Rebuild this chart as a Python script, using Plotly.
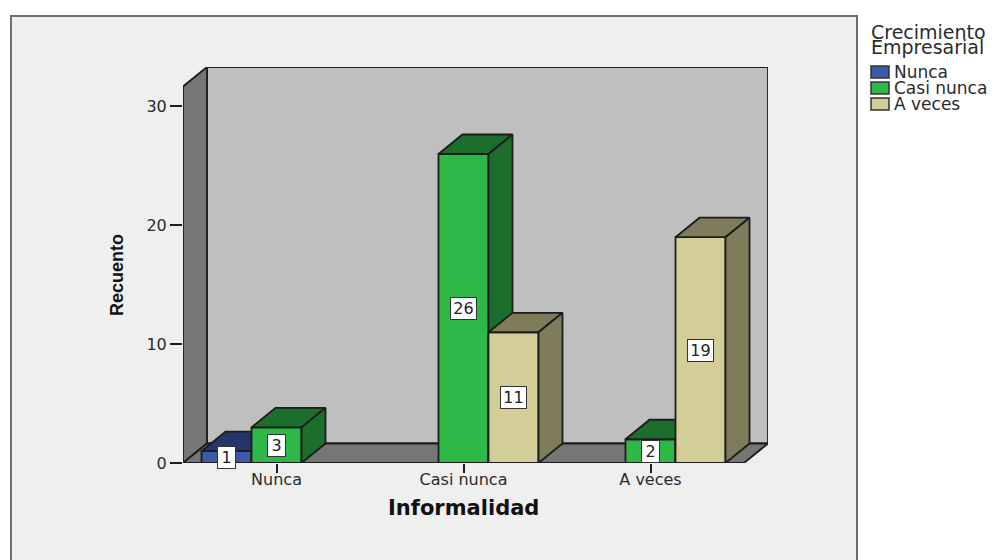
import plotly.graph_objects as go

### Data
categories = ["Nunca", "Casi nunca", "A veces"]
series_names = ["Nunca", "Casi nunca", "A veces"]
nunca_values = [1, None, None]
casi_nunca_values = [3, 26, 2]
a_veces_values = [None, 11, 19]
y_ticks = [0, 10, 20, 30]

legend_title_lines = ["Crecimiento", "Empresarial"]
x_title = "Informalidad"
y_title = "Recuento"

# front / dark face colours per series
front_colors = ["#3E58AC", "#2EB848", "#D3CE97"]
dark_colors = ["#25356A", "#1C6E2C", "#7F7C5B"]
edge = "#1c1c1c"
text_color = "#2b2b2b"

# The page keeps the browser's 8px body margin, so the figure is 8px smaller
PAGE = 8
W, H = 997 - PAGE, 560 - PAGE

# pixel helpers: the margins are zero so paper coords map straight to page pixels
def px(x):
    return (x - PAGE) / W

def py(y):
    return 1 - (y - PAGE) / H

# --- 3D box geometry (data units) ---
dx = 24 / 187
dy = 19.5 / 11.9
bar_w = 50 / 187
x_lo, x_hi = -0.5, 2.5
y_top = 31.68


def poly_trace(xs, ys, fill, xaxis="x", yaxis="y"):
    return go.Scatter(
        x=xs, y=ys, mode="lines", fill="toself", fillcolor=fill,
        line=dict(color=edge, width=1.8), hoverinfo="skip", showlegend=False,
        xaxis=xaxis, yaxis=yaxis,
    )


fig = go.Figure()

# Walls and floor on the base axes
fig.add_trace(poly_trace([x_lo + dx, x_hi + dx, x_hi + dx, x_lo + dx, x_lo + dx],
                         [dy, dy, y_top + dy, y_top + dy, dy], "#BFBFBF"))
fig.add_trace(poly_trace([x_lo, x_lo + dx, x_lo + dx, x_lo, x_lo],
                         [0, dy, y_top + dy, y_top, 0], "#767676"))
fig.add_trace(poly_trace([x_lo, x_hi, x_hi + dx, x_lo + dx, x_lo],
                         [0, 0, dy, dy, 0], "#767676"))

# Each series sits on its own overlaid axes so its front covers the previous sides
all_series = [nunca_values, casi_nunca_values, a_veces_values]
annotations = []
for k, values in enumerate(all_series):
    xa = f"x{k + 2}"
    ya = f"y{k + 2}"
    offset = (k - 1.5) * bar_w

    fig.add_trace(go.Bar(
        x=list(range(len(categories))), y=values, width=bar_w, offset=offset,
        marker_color=front_colors[k], marker_line_color=edge, marker_line_width=1.8,
        name=series_names[k], showlegend=False, xaxis=xa, yaxis=ya,
        hovertemplate="%{y}<extra>" + series_names[k] + "</extra>",
    ))

    top_x, top_y, side_x, side_y = [], [], [], []
    for i, v in enumerate(values):
        if v is None:
            continue
        l = i + offset
        r = l + bar_w
        top_x += [l, r, r + dx, l + dx, l, None]
        top_y += [v, v, v + dy, v + dy, v, None]
        side_x += [r, r + dx, r + dx, r, r, None]
        side_y += [0, dy, v + dy, v, 0, None]
        annotations.append(dict(
            x=l + bar_w / 2, y=v / 2, xref="x", yref="y", text=str(v), showarrow=False,
            width=15 if v < 10 else 23,
            font=dict(family="DejaVu Sans", size=16, color="#222222"),
            bgcolor="white", bordercolor="#333333", borderwidth=1, borderpad=1,
        ))
    fig.add_trace(poly_trace(top_x, top_y, dark_colors[k], xa, ya))
    fig.add_trace(poly_trace(side_x, side_y, dark_colors[k], xa, ya))

# --- Titles ---
annotations.append(dict(
    x=px(463), y=py(508), xref="paper", yref="paper", text=f"<b>{x_title}</b>", showarrow=False,
    xanchor="center", yanchor="middle",
    font=dict(family="DejaVu Sans", size=21, color="#111111"),
))
annotations.append(dict(
    x=px(117), y=py(275), xref="paper", yref="paper", text=f"<b>{y_title}</b>", showarrow=False,
    xanchor="center", yanchor="middle",
    textangle=-90, font=dict(family="Liberation Sans", size=18, color="#111111"),
))

# --- Legend, drawn by hand because the swatches and spacing are tight ---
for j, line in enumerate(legend_title_lines):
    annotations.append(dict(
        x=px(869), y=py(32 + j * 15), xref="paper", yref="paper", text=line, showarrow=False,
        xanchor="left", yanchor="middle",
        font=dict(family="DejaVu Sans", size=19, color=text_color),
    ))
shapes = [dict(
    type="rect", xref="paper", yref="paper", layer="below",
    x0=px(11), x1=px(857), y0=-0.1, y1=py(16),
    fillcolor="#EFEFEF", line=dict(color="#6e6e6e", width=2),
)]
for k, name in enumerate(series_names):
    cy = 72 + k * 16
    shapes.append(dict(
        type="rect", xref="paper", yref="paper",
        x0=px(871), x1=px(889), y0=py(cy + 6), y1=py(cy - 6),
        fillcolor=front_colors[k], line=dict(color="#333333", width=1.5),
    ))
    annotations.append(dict(
        x=px(892), y=py(cy), xref="paper", yref="paper", text=name, showarrow=False,
        xanchor="left", yanchor="middle",
        font=dict(family="DejaVu Sans", size=17, color=text_color),
    ))

# --- Styling ---
x_range = [x_lo, x_hi + dx]
y_range = [0, y_top + dy]
x_domain = [px(183), px(768)]
y_domain = [py(463), py(67)]

fig.update_layout(
    width=W, height=H,
    margin=dict(l=0, r=0, t=0, b=0),
    paper_bgcolor="white", plot_bgcolor="rgba(0,0,0,0)",
    showlegend=False,
    annotations=annotations, shapes=shapes,
    xaxis=dict(
        domain=x_domain, range=x_range, automargin=False,
        tickmode="array", tickvals=list(range(len(categories))), ticktext=categories,
        ticks="outside", ticklen=9, tickwidth=1.8, tickcolor=edge, ticklabelstandoff=-7,
        showgrid=False, zeroline=False, showline=False,
        tickfont=dict(family="DejaVu Sans", size=16, color=text_color),
    ),
    yaxis=dict(
        domain=y_domain, range=y_range, automargin=False,
        tickmode="array", tickvals=y_ticks,
        ticks="outside", ticklen=12, tickwidth=1.8, tickcolor=edge,
        showgrid=False, zeroline=False, showline=False,
        tickfont=dict(family="DejaVu Sans", size=16, color=text_color),
    ),
)
for n in (2, 3, 4):
    fig.update_layout({
        f"xaxis{n}": dict(domain=x_domain, range=x_range, overlaying="x", visible=False),
        f"yaxis{n}": dict(domain=y_domain, range=y_range, overlaying="y", visible=False),
    })

fig.write_html("out.html")
